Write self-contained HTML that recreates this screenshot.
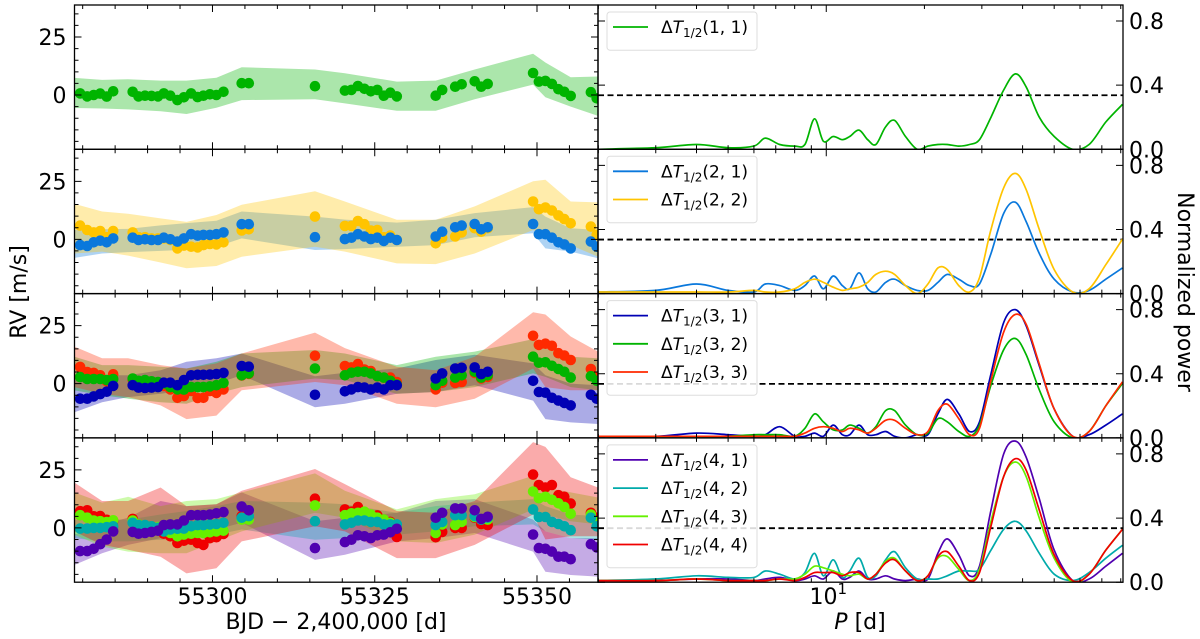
<!DOCTYPE html>
<html><head><meta charset="utf-8"><style>
html,body{margin:0;padding:0;background:#fff;}
svg{display:block;font-family:"DejaVu Sans","Liberation Sans",sans-serif;}
</style></head><body>
<svg id="fig" width="1200" height="639" viewBox="0 0 1200 639" xmlns="http://www.w3.org/2000/svg"></svg>
<script>
// ---------- data ----------
const times = [55279.6,55280.7,55281.7,55282.7,55283.7,55284.7,55287.7,55288.6,55289.6,55290.6,55291.6,55292.5,55293.5,55294.6,55295.6,55296.7,55297.7,55298.6,55299.6,55300.6,55301.7,55304.5,55305.6,55315.8,55320.4,55321.4,55322.4,55323.4,55324.4,55325.4,55326.4,55327.4,55328.4,55334.4,55335.4,55337.4,55338.4,55340.4,55341.4,55342.4,55349.4,55350.3,55351.3,55352.3,55353.3,55354.2,55355.2,55358.3,55359.2];
const knotTimes = [55278.7,55283,55287,55292,55296,55300.6,55304.5,55315.8,55320.4,55328.4,55334.4,55340.4,55349.4,55351.3,55355.2,55359.4];
const periods = [2.0,3.0,4.0,5.0,6.0,6.5,7.2,8.0,8.6,9.2,9.8,10.5,11.2,11.8,12.6,13.4,14.2,15.2,16.2,17.5,19.0,20.5,22.0,23.5,25.5,27.5,29.5,32,35,38,41,45,50,57,64,72,81];
const fapLevel = 0.337;
const rvTickLabels = ["0","25"];
const rvTicks = [0,25];
const powTicks = [0.0,0.4,0.8];
const powTickLabels = ["0.0","0.4","0.8"];
const timeTicks = [55300,55325,55350];
const timeTickLabels = ["55300","55325","55350"];

// panel 1
const rv11 = [0.7,-0.6,0,0.6,-0.7,1.6, 1.4,-0.6,-0.3,-0.4,-0.6,0.7,-0.3,-2.2,-1,0.7,-0.9,-0.3,0.3,0,1.4, 5.1,5.1, 3.8, 1.9,2.2,3.9,2.7,1.6,2.2,-0.3,1,-0.6, -0.3,2.2, 3.6,4.6, 5.9,3.6,4.8, 9.5,5.8,6.1,4.8,2.5,1.4,-0.4, 1.2,-1.4];
const up11 = [7.4,6.5,6.8,6.2,6.2,7.4,12,11,9.4,5.8,6.2,11,17.8,14,7.7,8];
const lo11 = [-5.6,-5.8,-6.2,-7,-8.2,-5.5,-2.2,-1.8,-3.6,-6.8,-6.8,-1.8,4.5,-1,-5,-9];
const pw11 = [0,0.01,0.03,0.01,0.02,0.07,0.03,0.02,0.03,0.19,0.05,0.08,0.06,0.08,0.12,0.06,0.03,0.14,0.18,0.08,0.0,0.02,0.03,0.03,0.02,0.03,0.06,0.2,0.37,0.47,0.39,0.2,0.08,0.0,0.03,0.17,0.28];
// panel 2
const rv21 = [-2.5,-2.9,-1.3,-0.6,-1.3,0.4, 0.7,-0.3,0,-0.3,-0.3,0.7,0,-1,0.4,2.2,1.6,1.9,1.9,2.2,3, 6.5,6.5, 0.9, 0.1,0.7,2.2,1.2,0.1,0.7,-0.7,0.7,-0.3, 1.2,3.3, 5.2,5.9, 6.6,4.3,5.2, 6.6,2.2,2.2,0.7,-1.3,-2.2,-3.9, -1,-3.2];
const rv22 = [5.9,4,3,3.6,0.9,3.6, 3,0.9,0.9,0.4,0.4,0.4,-0.3,-3.9,-2.7,-3.2,-3.5,-2.5,-2,-2.2,-1.3, 3.8,4.3, 9.8, 5.8,5.8,7.9,6.5,3.8,4,0.9,1.6,-0.3, -1.7,0.7, 1.2,3, 4.8,3.3,4.8, 16.3,13,13.7,12.4,10.3,8.7,6.9, 5.5,1.9];
const up21 = [4,4.3,4.5,6,7,8,12,9.8,8.5,7.2,8.4,11.3,13.9,9.8,4.8,4];
const lo21 = [-8,-6.1,-5.5,-5,-4.5,-3.2,0.4,-4.6,-4.2,-3.2,-2.5,0.9,2.6,-3.9,-5.3,-8.2];
const up22 = [15.3,12,11,9,7.5,10.5,14.9,20.7,16.3,8.4,8.4,14.2,25,25.7,16.3,15.9];
const lo22 = [-6.1,-5.3,-7,-10,-12.5,-11.5,-7.5,-3.2,-5.3,-10.4,-10.7,-6.1,4,1.2,-2.5,-7.5];
const pw21 = [0.01,0.02,0.06,0.02,0.01,0.06,0.05,0.02,0.05,0.11,0.03,0.11,0.05,0.03,0.13,0.03,0.01,0.07,0.09,0.05,0.02,0.02,0.07,0.12,0.09,0.05,0.06,0.25,0.5,0.57,0.45,0.25,0.09,0.01,0.02,0.09,0.16];
const pw22 = [0.01,0.01,0.01,0.01,0.02,0.01,0.01,0.03,0.07,0.09,0.07,0.04,0.02,0.03,0.04,0.07,0.12,0.14,0.12,0.05,0.0,0.06,0.16,0.15,0.05,0.01,0.1,0.4,0.66,0.75,0.65,0.4,0.15,0.01,0.03,0.18,0.34];
// panel 3
const rv31 = [-6.5,-6.5,-5.5,-4.5,-3.5,-1, -0.7,-1.7,-1.9,-1.7,-1.5,0.4,0.4,-0.7,1.5,3.6,3.8,3.8,3.9,4.1,4.6, 7.6,7.3, -4.8, -3.3,-2.5,-1.5,-1.7,-2.5,-1.7,-2.5,-0.7,-0.7, 2.2,4.4, 6.5,6.8, 7,4.1,5.1, 1.2,-3.6,-3.9,-6.1,-7.3,-8.3,-9.4, -4.8,-6.5];
const rv32 = [2.8,2,2,2,1.5,2, 2.2,1.2,1.5,1,0.7,0,-1.5,-2.5,-2.6,-1.5,-1.5,-1.5,-1.2,-0.7,0.3, 3.6,4.4, 6.5, 3.6,4.7,5.1,5.1,4.4,3.2,2.6,1.2,-0.4, -0.7,1.2, 2.6,3.6, 5.1,2.6,3.6, 11.6,9,9.2,7.7,6.3,5.1,2.6, 3.2,1.2];
const rv33 = [7.2,5,4.6,3.6,1,4, 1.7,0.7,0.7,0.7,-0.3,-1,-2.5,-6.1,-5.4,-3.2,-6.2,-6.1,-3.2,-4,-2.5, 3.5,4.2, 12, 7.6,7,8.4,6.1,5.4,3.2,2.6,2.6,0.7, -2.5,0.4, 0.3,0.7, 4.6,2.2,2.9, 20.6,16.7,17.2,16.3,13.1,12.1,10.2, 6.3,2.9];
const up31 = [1.5,3.6,3.6,5.8,9.4,10.9,13,3.2,4.7,6.5,10.2,12.4,8.7,3.6,0,-0.7];
const lo31 = [-12.4,-8,-5.8,-4.4,-2.9,0,3.6,-10.2,-8.7,-4.4,-3.6,-0.7,-7.3,-15.3,-16.7,-17.4];
const up32 = [11.6,8,8,7.3,6.5,9.4,13,14.5,13,8,11.6,13.8,19.2,15.3,11.6,10.9];
const lo32 = [-2.9,-5,-6.5,-8,-8.7,-4.4,-1.5,2.2,1.5,-4.4,-3.6,-1.5,4.4,2.9,-1.5,-2.9];
const up33 = [16,10.9,10.9,8,6.5,8.7,13,22,15.3,7.3,5.8,11.6,30.8,29.8,20.3,13.8];
const lo33 = [-1.5,-4.4,-5.8,-9.4,-15.3,-13.8,-2.9,0.7,-0.7,-8.7,-10.2,-6.5,6.5,-1.5,-2.9,-2.9];
const pw31 = [0.01,0.01,0.03,0.02,0.01,0.02,0.07,0.01,0.01,0.03,0.01,0.08,0.02,0.02,0.08,0.02,0.02,0.04,0.01,0.0,0.02,0.02,0.15,0.24,0.15,0.04,0.1,0.4,0.72,0.8,0.7,0.45,0.18,0.01,0.02,0.08,0.15];
const pw32 = [0.01,0.01,0.01,0.01,0.02,0.02,0.02,0.01,0.06,0.15,0.1,0.05,0.05,0.08,0.06,0.03,0.07,0.17,0.17,0.08,0.02,0.03,0.12,0.1,0.04,0.01,0.08,0.33,0.55,0.62,0.52,0.3,0.1,0.0,0.04,0.2,0.34];
const pw33 = [0.01,0.01,0.01,0.01,0.01,0.01,0.01,0.01,0.03,0.06,0.07,0.06,0.04,0.06,0.05,0.03,0.06,0.11,0.11,0.06,0.02,0.04,0.17,0.21,0.12,0.02,0.06,0.36,0.66,0.77,0.71,0.46,0.18,0.01,0.04,0.2,0.35];
// panel 4
const rv41 = [-10,-10,-9,-7,-5,-1.5, -1.7,-2.5,-2.2,-1.7,-1.2,1.2,1.5,1.5,3.2,5.5,5.5,5.5,5.8,6.3,6.8, 9.2,7.6, -8.7, -6.1,-5.1,-3.2,-3.6,-4.4,-3.2,-2.9,-1.9,-0.4, 4.4,6.5, 8.4,8.4, 7.6,3.9,4.8, -2.9,-8.7,-9,-10.2,-12.4,-12.4,-13.5, -7,-8.4];
const rv42 = [-0.3,-0.3,0,0,0.3,0.7, 2.2,1.2,1.2,0.7,0,-1.5,-0.7,-0.4,-0.3,0.7,1.2,1.2,1.5,1.7,2.2, 4.4,5.1, 2.9, 1.5,2.2,3.2,3.2,2.6,2.6,1.5,1.5,1.5, 1.2,2.6, 5.5,5.5, 5.1,3.6,4.4, 8,4.7,4.7,2.6,1.7,0.7,-1, 4.4,0.7];
const rv43 = [5.5,4.4,3.2,2.9,2.5,3.3, 3.2,1.5,0.7,0.7,0.4,-0.4,-2.2,-3.6,-2.9,-2.5,-2.2,-2.2,-1.9,-1.5,-1.2, 3.6,3.6, 9.7, 5.5,6.3,6.5,7,5.8,4.4,3.6,2.2,0.3, -2.2,1.5, 1.2,2.6, 4.7,3.6,3.6, 15.7,12.8,13.4,12.1,10.6,9,6.1, 5.8,2.6];
const rv44 = [7.2,7.6,5,5.1,3.5,3, 3.9,1.5,0.7,0.7,-0.3,-2.5,-3.6,-6.5,-5.5,-5.1,-6.5,-7.3,-4.4,-4,-2.6, 5.1,4.4, 12.6, 8,7,9,5.5,4.4,5.4,2.6,2.6,-3.9, -4,-1.7, 0,0, 4.4,1.7,1.2, 23,18.5,17.4,18.5,14.1,13.4,10.5, 6.5,4.4];
const up41 = [-2.9,1.5,4.4,11.6,9.4,10.2,15.3,2.9,4.4,6.5,11.6,12.4,3.6,-1.5,-4.4,-4.4];
const lo41 = [-16,-10.9,-7.3,-4.4,-2.9,-0.7,2.2,-13.8,-11.6,-5.8,-4.4,-2.2,-10.2,-18.9,-20.3,-21];
const up42 = [3.6,3.6,3.6,5.8,7.3,9.4,11.6,10.9,10.2,6.5,9.4,10.9,12.4,9.4,5.8,5.1];
const lo42 = [-4.4,-5.8,-5.8,-5.1,-5.1,-2.9,-0.7,-5.1,-4.4,-2.9,-1.5,0.7,1.5,-1.5,-4.4,-5.1];
const up43 = [15.3,10.9,13.4,9.4,11.6,12.4,15.3,23.5,16,8,12.4,14.5,22.5,17.4,15.3,13.1];
const lo43 = [-2.9,-8,-10.2,-10.9,-10.9,-5.8,-1.5,6.5,4.4,-5.8,-6.5,-2.9,8,5.8,2.9,1.5];
const up44 = [19.6,11.6,11.6,17.4,9.4,10.2,16,25.4,18.9,7.3,6.5,11.6,37,34.9,21.8,17.4];
const lo44 = [-1.5,-7.3,-9.4,-12.4,-19.6,-17.4,-5.8,0.7,-1.5,-13,-13,-7.3,5.8,-5,-3.6,-3.6];
const pw41 = [0.01,0.01,0.02,0.02,0.01,0.02,0.03,0.01,0.02,0.04,0.02,0.07,0.02,0.03,0.07,0.02,0.02,0.04,0.02,0.01,0.02,0.02,0.18,0.27,0.17,0.04,0.1,0.45,0.8,0.88,0.78,0.52,0.2,0.01,0.02,0.1,0.18];
const pw42 = [0.01,0.02,0.04,0.03,0.03,0.07,0.05,0.02,0.06,0.18,0.04,0.14,0.03,0.07,0.15,0.03,0.04,0.14,0.19,0.09,0.02,0.02,0.02,0.04,0.07,0.07,0.08,0.2,0.33,0.38,0.32,0.18,0.05,0.01,0.06,0.15,0.23];
const pw43 = [0.01,0.01,0.02,0.01,0.01,0.01,0.02,0.02,0.05,0.1,0.09,0.07,0.05,0.04,0.05,0.02,0.05,0.13,0.15,0.07,0.01,0.04,0.15,0.16,0.08,0.01,0.08,0.38,0.66,0.75,0.66,0.4,0.15,0.0,0.05,0.2,0.33];
const pw44 = [0.01,0.01,0.02,0.01,0.01,0.01,0.02,0.01,0.03,0.06,0.06,0.06,0.04,0.06,0.06,0.02,0.05,0.12,0.14,0.07,0.01,0.04,0.16,0.19,0.1,0.01,0.06,0.35,0.66,0.77,0.7,0.45,0.17,0.01,0.05,0.2,0.33];

const panels = [
  {series:[{id:"1-1",c:"#00b400",rv:rv11,up:up11,lo:lo11,pw:pw11}]},
  {series:[{id:"2-1",c:"#0a78dc",rv:rv21,up:up21,lo:lo21,pw:pw21},{id:"2-2",c:"#ffc400",rv:rv22,up:up22,lo:lo22,pw:pw22}]},
  {series:[{id:"3-1",c:"#0000b4",rv:rv31,up:up31,lo:lo31,pw:pw31},{id:"3-2",c:"#00b400",rv:rv32,up:up32,lo:lo32,pw:pw32},{id:"3-3",c:"#ff2a00",rv:rv33,up:up33,lo:lo33,pw:pw33}]},
  {series:[{id:"4-1",c:"#5000b0",rv:rv41,up:up41,lo:lo41,pw:pw41},{id:"4-2",c:"#00aaaa",rv:rv42,up:up42,lo:lo42,pw:pw42},{id:"4-3",c:"#66f000",rv:rv43,up:up43,lo:lo43,pw:pw43},{id:"4-4",c:"#f00000",rv:rv44,up:up44,lo:lo44,pw:pw44}]}
];

// ---------- geometry ----------
const NS="http://www.w3.org/2000/svg";
const svg=document.getElementById('fig');
const LX0=74.5, MX=598, RX1=1123;
const TOP=[5,149.3,293.6,437.9], PH=144.3;
const T0=55278.74, T1=55359.4, RVMAX=38.8;
const LGMIN=0.300, LGMAX=1.910, PMAX=0.9;
function xL(t){return LX0+(t-T0)/(T1-T0)*(MX-LX0);}
function yL(v,p){return TOP[p]+(RVMAX-v)*2.32;}
function xR(P){return MX+(Math.log10(P)-LGMIN)/(LGMAX-LGMIN)*(RX1-MX);}
function yR(v,p){return TOP[p]+PH-v*(PH/PMAX);}
function mk(tag,attrs,parent){const e=document.createElementNS(NS,tag);for(const k in attrs)e.setAttribute(k,attrs[k]);(parent||svg).appendChild(e);return e;}

const defs=mk('defs',{});
for(let p=0;p<4;p++){
  const cl=mk('clipPath',{id:'cl'+p},defs);mk('rect',{x:LX0,y:TOP[p],width:MX-LX0,height:PH},cl);
  const cr=mk('clipPath',{id:'cr'+p},defs);mk('rect',{x:MX,y:TOP[p]-2,width:RX1-MX,height:PH+2},cr);
}

function smooth(pts){
  let d='M'+pts[0][0].toFixed(1)+','+pts[0][1].toFixed(1);
  for(let i=0;i<pts.length-1;i++){
    const p0=pts[Math.max(0,i-1)],p1=pts[i],p2=pts[i+1],p3=pts[Math.min(pts.length-1,i+2)];
    const c1x=p1[0]+(p2[0]-p0[0])/6,c1y=p1[1]+(p2[1]-p0[1])/6;
    const c2x=p2[0]-(p3[0]-p1[0])/6,c2y=p2[1]-(p3[1]-p1[1])/6;
    d+=` C${c1x.toFixed(1)},${c1y.toFixed(1)} ${c2x.toFixed(1)},${c2y.toFixed(1)} ${p2[0].toFixed(1)},${p2[1].toFixed(1)}`;
  }
  return d;
}

panels.forEach((pan,p)=>{
  const gl=mk('g',{'clip-path':`url(#cl${p})`});
  
  
  pan.series.forEach(s=>{
    let pts=knotTimes.map((t,i)=>xL(t).toFixed(1)+','+yL(s.up[i],p).toFixed(1));
    pts=pts.concat(knotTimes.map((t,i)=>xL(t).toFixed(1)+','+yL(s.lo[i],p).toFixed(1)).reverse());
    const b=mk('polygon',{points:pts.join(' '),fill:s.c,'fill-opacity':0.33},gl);
    
    
  });
  [...pan.series].reverse().forEach(s=>{
    const g=mk('g',{fill:s.c},gl);
    
    
    times.forEach((t,i)=>{
      const c=mk('circle',{cx:xL(t).toFixed(1),cy:yL(s.rv[i],p).toFixed(1),r:5.3},g);
      
      
    });
  });
  const gr=mk('g',{'clip-path':`url(#cr${p})`});
  
  
  const fl=mk('line',{x1:MX,x2:RX1,y1:yR(fapLevel,p),y2:yR(fapLevel,p),stroke:'#000','stroke-width':1.8,'stroke-dasharray':'6,3.5'},gr);
  
  
  pan.series.forEach(s=>{
    const pts=periods.map((P,i)=>[xR(P),yR(s.pw[i],p)]);
    const l=mk('path',{d:smooth(pts),fill:'none',stroke:s.c,'stroke-width':1.7},gr);
    
    
  });
  const fr=mk('g',{stroke:'#000',fill:'none'});
  
  
  mk('rect',{x:LX0,y:TOP[p],width:MX-LX0,height:PH,'stroke-width':1.3},fr);
  mk('rect',{x:MX,y:TOP[p],width:RX1-MX,height:PH,'stroke-width':1.3},fr);
  let d='';
  for(let v=-20;v<=35;v+=5){const y=yL(v,p);if(y<TOP[p]+1||y>TOP[p]+PH-1)continue;const L=(v%25===0)?7:4;d+=`M${LX0},${y}h${L}M${MX},${y}h${-L}`;}
  for(let t=55280;t<=55355;t+=5){const x=xL(t);const L=(t%25===0)?7:4;d+=`M${x},${TOP[p]+PH}v${-L}M${x},${TOP[p]}v${L}`;}
  for(let dec=1;dec<=10;dec*=10){for(let k=1;k<=9;k++){const P=k*dec;const lg=Math.log10(P);if(lg<LGMIN||lg>LGMAX)continue;const x=xR(P);const L=(k===1)?7:4;d+=`M${x},${TOP[p]+PH}v${-L}M${x},${TOP[p]}v${L}`;}}
  powTicks.forEach(v=>{const y=yR(v,p);d+=`M${RX1},${y}h-7M${MX},${y}h7`;});
  mk('path',{d:d,'stroke-width':1},fr);
  rvTicks.forEach((v,i)=>{
    const t=mk('text',{x:LX0-8,y:yL(v,p)+8,'text-anchor':'end','font-size':22,fill:'#000'});t.textContent=rvTickLabels[i];
    
    
  });
  powTicks.forEach((v,i)=>{
    const t=mk('text',{x:RX1+6,y:yR(v,p)+8,'font-size':22,fill:'#000'});t.textContent=powTickLabels[i];
    
    
  });
  const n=pan.series.length;
  const lg=mk('g',{});
  
  
  mk('rect',{x:607,y:TOP[p]+7,width:150,height:10+n*28.2,rx:3,fill:'#fff','fill-opacity':0.85,stroke:'#ddd','stroke-width':1},lg);
  pan.series.forEach((s,i)=>{
    const yy=TOP[p]+22+i*28.2;
    mk('line',{x1:613,x2:648,y1:yy,y2:yy,stroke:s.c,'stroke-width':1.8},lg);
    const t=mk('text',{x:661,y:yy+6,'font-size':17,fill:'#000'},lg);
    const parts=s.id.split('-');
    t.innerHTML=`Δ<tspan font-style="italic">T</tspan><tspan font-size="12" dy="4">1/2</tspan><tspan dy="-4">(${parts[0]}, ${parts[1]})</tspan>`;
    
    
  });
});
timeTicks.forEach((t,i)=>{
  const e=mk('text',{x:xL(t),y:604,'text-anchor':'middle','font-size':22,fill:'#000'});e.textContent=timeTickLabels[i];
  
  
});
const pt=mk('text',{x:xR(10)+2,y:604,'text-anchor':'middle','font-size':22,fill:'#000'});
pt.innerHTML='10<tspan font-size="15" dy="-10">1</tspan>';


</script>
<svg style="position:absolute;left:0;top:0" width="1200" height="639">
<text x="336" y="629" text-anchor="middle" font-size="22" font-family="DejaVu Sans, sans-serif">BJD − 2,400,000 [d]</text>
<text x="860" y="629" text-anchor="middle" font-size="22" font-family="DejaVu Sans, sans-serif"><tspan font-style="italic">P</tspan> [d]</text>
<text transform="translate(26,292) rotate(-90)" text-anchor="middle" font-size="22" font-family="DejaVu Sans, sans-serif">RV [m/s]</text>
<text transform="translate(1178,292) rotate(90)" text-anchor="middle" font-size="22" font-family="DejaVu Sans, sans-serif">Normalized power</text>
</svg>
</body></html>
